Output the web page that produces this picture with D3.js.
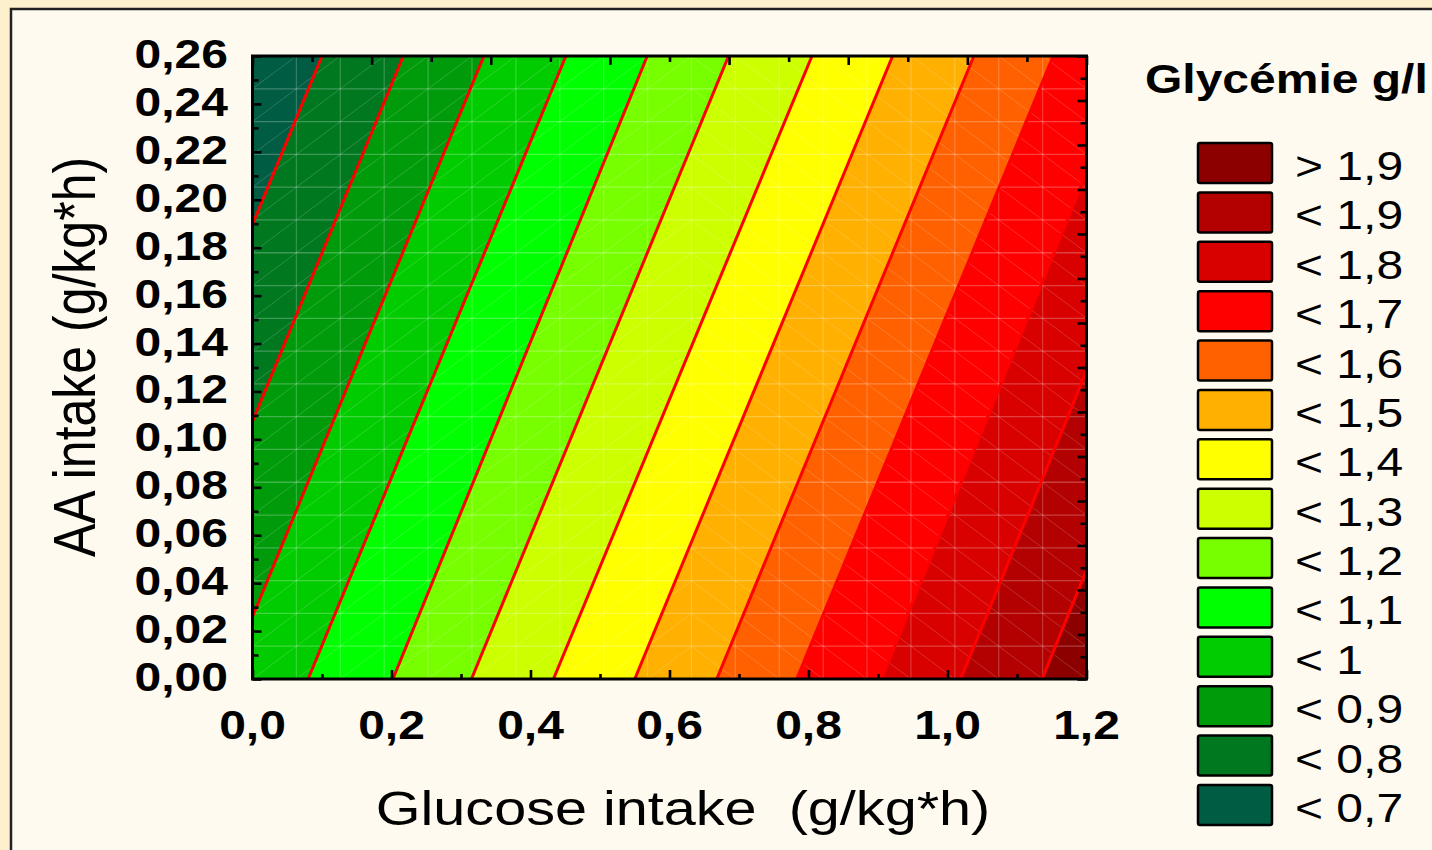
<!DOCTYPE html>
<html>
<head>
<meta charset="utf-8">
<script src="https://cdn.jsdelivr.net/npm/d3@7"></script>
<style>
  html, body { margin: 0; padding: 0; background: #fdf0cc; }
  svg { display: block; }
  text { white-space: pre; }
</style>
</head>
<body>
<svg id="chart" width="1432" height="850"></svg>
<script>
// Contour levels of glycaemia (g/l) and where each iso-line meets the
// bottom (AA = 0) and top (AA = 0.26) of the domain, in glucose intake units.
const levels = [0.7, 0.8, 0.9, 1.0, 1.1, 1.2, 1.3, 1.4, 1.5, 1.6, 1.7, 1.8, 1.9];
const glucoseAtAAMin = [-0.270, -0.153, -0.037, 0.080, 0.202, 0.315, 0.433, 0.550, 0.668, 0.783, 0.905, 1.019, 1.136];
const glucoseAtAAMax = [0.100, 0.217, 0.333, 0.451, 0.568, 0.685, 0.805, 0.921, 1.038, 1.152, 1.268, 1.385, 1.502];

// Fill classes, lowest to highest
const bandLabels = ["< 0,7", "< 0,8", "< 0,9", "< 1", "< 1,1", "< 1,2", "< 1,3",
                    "< 1,4", "< 1,5", "< 1,6", "< 1,7", "< 1,8", "< 1,9", "> 1,9"];
const bandColors = ["#005c42", "#00781f", "#009b0b", "#00cc00", "#00ff00", "#77ff00", "#ccff00",
                    "#ffff00", "#ffb000", "#ff6000", "#ff0000", "#d90000", "#b30000", "#8c0000"];

// Axis tick labels
const xTickValues = [0, 0.2, 0.4, 0.6, 0.8, 1.0, 1.2];
const xTickLabels = ["0,0", "0,2", "0,4", "0,6", "0,8", "1,0", "1,2"];
const yTickValues = [0, 0.02, 0.04, 0.06, 0.08, 0.10, 0.12, 0.14, 0.16, 0.18, 0.20, 0.22, 0.24, 0.26];
const yTickLabels = ["0,00", "0,02", "0,04", "0,06", "0,08", "0,10", "0,12", "0,14", "0,16", "0,18", "0,20", "0,22", "0,24", "0,26"];

const xDomain = [0, 1.2];
const yDomain = [0, 0.26];

const svg = d3.select("#chart");
const FONT = "'Liberation Sans', Arial, sans-serif";
const STRETCH = 1.2;

const plot = { left: 252.5, right: 1086.5, top: 56, bottom: 679 };
const x = d3.scaleLinear().domain(xDomain).range([plot.left, plot.right]);
const y = d3.scaleLinear().domain(yDomain).range([plot.bottom, plot.top]);

// Page background and panel frame
svg.append("rect").attr("width", 1432).attr("height", 850).attr("fill", "#fdf0cc");
svg.append("rect").attr("x", 11).attr("y", 9).attr("width", 1450).attr("height", 870)
  .attr("fill", "#fffaf0").attr("stroke", "#222").attr("stroke-width", 2.5);

svg.append("defs").append("clipPath").attr("id", "plotClip")
  .append("rect")
  .attr("x", plot.left).attr("y", plot.top)
  .attr("width", plot.right - plot.left).attr("height", plot.bottom - plot.top);

const area = svg.append("g").attr("clip-path", "url(#plotClip)");

// Filled bands between consecutive iso-lines
const lineAt = i => {
  if (i < 0) return { g0: -1, g1: -1 };
  if (i >= levels.length) return { g0: 3, g1: 3 };
  return { g0: glucoseAtAAMin[i], g1: glucoseAtAAMax[i] };
};
const bands = bandColors.map((c, k) => {
  const lo = lineAt(k - 1), hi = lineAt(k);
  return {
    color: c,
    pts: [[lo.g0, yDomain[0]], [lo.g1, yDomain[1]], [hi.g1, yDomain[1]], [hi.g0, yDomain[0]]]
  };
});
area.selectAll("path.band").data(bands).join("path")
  .attr("class", "band")
  .attr("d", d => d3.line().x(p => x(p[0])).y(p => y(p[1]))(d.pts) + "Z")
  .attr("fill", d => d.color)
  .attr("stroke", d => d.color)
  .attr("stroke-width", 0.6);

// Surface mesh (20 x 20 nodes) drawn faintly over the fills
const nodes = 20;
const gx = d3.range(nodes).map(i => xDomain[0] + (xDomain[1] - xDomain[0]) * i / (nodes - 1));
const gy = d3.range(nodes).map(j => yDomain[0] + (yDomain[1] - yDomain[0]) * j / (nodes - 1));
const mesh = area.append("g").attr("stroke", "#ffffff").attr("fill", "none");
mesh.selectAll("line.v").data(gx).join("line")
  .attr("x1", d => x(d)).attr("x2", d => x(d))
  .attr("y1", plot.top).attr("y2", plot.bottom)
  .attr("stroke-opacity", 0.2).attr("stroke-width", 1.3);
mesh.selectAll("line.h").data(gy).join("line")
  .attr("y1", d => y(d)).attr("y2", d => y(d))
  .attr("x1", plot.left).attr("x2", plot.right)
  .attr("stroke-opacity", 0.25).attr("stroke-width", 1.3);
const cells = [];
for (let i = 0; i < nodes - 1; i++) {
  for (let j = 0; j < nodes - 1; j++) cells.push({ i, j });
}
mesh.selectAll("line.d").data(cells).join("line")
  .attr("x1", d => x(gx[d.i]))
  .attr("x2", d => x(gx[d.i + 1]))
  .attr("y1", d => d.i < 10 ? y(gy[d.j]) : y(gy[d.j + 1]))
  .attr("y2", d => d.i < 10 ? y(gy[d.j + 1]) : y(gy[d.j]))
  .attr("stroke-opacity", 0.2).attr("stroke-width", 0.9);

// Iso-lines
area.selectAll("line.iso").data(levels).join("line")
  .attr("class", "iso")
  .attr("x1", (d, i) => x(glucoseAtAAMin[i])).attr("y1", y(yDomain[0]))
  .attr("x2", (d, i) => x(glucoseAtAAMax[i])).attr("y2", y(yDomain[1]))
  .attr("stroke", "#ff0000").attr("stroke-width", 3);

// Inward tick marks on all four sides
function styleAxis(g) {
  g.select(".domain").remove();
  g.selectAll(".tick line").attr("stroke", "#000").attr("stroke-width", 2.6);
  g.selectAll(".tick text").remove();
}
const leftMinor = d3.range(1, 26, 2).map(k => k * 0.01);
const bottomMinor = d3.range(1, 12, 2).map(k => k * 0.1);
svg.append("g").attr("transform", `translate(${plot.left},0)`)
  .call(d3.axisLeft(y).tickValues(yTickValues).tickSize(-9)).call(styleAxis);
svg.append("g").attr("transform", `translate(${plot.left},0)`)
  .call(d3.axisLeft(y).tickValues(leftMinor).tickSize(-6)).call(styleAxis);
svg.append("g").attr("transform", `translate(0,${plot.bottom})`)
  .call(d3.axisBottom(x).tickValues(xTickValues).tickSize(-9)).call(styleAxis);
svg.append("g").attr("transform", `translate(0,${plot.bottom})`)
  .call(d3.axisBottom(x).tickValues(bottomMinor).tickSize(-5)).call(styleAxis);

// Secondary (top / right) scales with their own divisions
const xTop = d3.scaleLinear().domain([0, 14]).range([plot.left, plot.right]);
const yRight = d3.scaleLinear().domain([0, 28]).range([plot.bottom, plot.top]);
svg.append("g").attr("transform", `translate(0,${plot.top})`)
  .call(d3.axisTop(xTop).tickValues(d3.range(0, 15, 2)).tickSize(-9)).call(styleAxis);
svg.append("g").attr("transform", `translate(0,${plot.top})`)
  .call(d3.axisTop(xTop).tickValues(d3.range(1, 14, 2)).tickSize(-6)).call(styleAxis);
svg.append("g").attr("transform", `translate(${plot.right},0)`)
  .call(d3.axisRight(yRight).tickValues(d3.range(0, 29, 2)).tickSize(-9)).call(styleAxis);
svg.append("g").attr("transform", `translate(${plot.right},0)`)
  .call(d3.axisRight(yRight).tickValues(d3.range(1, 28, 2)).tickSize(-6)).call(styleAxis);

// Plot frame
svg.append("rect")
  .attr("x", plot.left).attr("y", plot.top)
  .attr("width", plot.right - plot.left).attr("height", plot.bottom - plot.top)
  .attr("fill", "none").attr("stroke", "#000").attr("stroke-width", 3);

// Helper for horizontally widened text
function label(px, py, txt, opts) {
  const g = svg.append("g")
    .attr("transform", `translate(${px},${py}) scale(${STRETCH},1)` + (opts.rotate ? ` rotate(${opts.rotate})` : ""));
  g.append("text")
    .attr("xml:space", "preserve")
    .attr("text-anchor", opts.anchor || "start")
    .attr("font-family", FONT)
    .attr("font-size", opts.size)
    .attr("font-weight", opts.weight || "normal")
    .attr("fill", "#000")
    .text(txt);
}

// Tick labels
yTickValues.forEach((v, i) => label(228, y(v) + 12, yTickLabels[i], { anchor: "end", size: 40, weight: "bold" }));
xTickValues.forEach((v, i) => label(x(v), 739, xTickLabels[i], { anchor: "middle", size: 40, weight: "bold" }));

// Axis titles
label(683, 825, "Glucose intake  (g/kg*h)", { anchor: "middle", size: 48 });
label(95, 357, "AA intake (g/kg*h)", { anchor: "middle", size: 50, rotate: -90 });

// Legend
label(1145, 93, "Glycémie g/l", { anchor: "start", size: 40, weight: "bold" });
const legendRows = bandLabels.map((t, k) => ({ text: t, color: bandColors[k] })).reverse();
const legendY = d3.scaleLinear().domain([0, 1]).range([143, 143 + 49.38]);
legendRows.forEach((r, i) => {
  svg.append("rect")
    .attr("x", 1198).attr("y", legendY(i))
    .attr("width", 74).attr("height", 40).attr("rx", 2)
    .attr("fill", r.color).attr("stroke", "#000").attr("stroke-width", 2.5);
  label(1295, legendY(i) + 37, r.text, { anchor: "start", size: 40 });
});
</script>
</body>
</html>
